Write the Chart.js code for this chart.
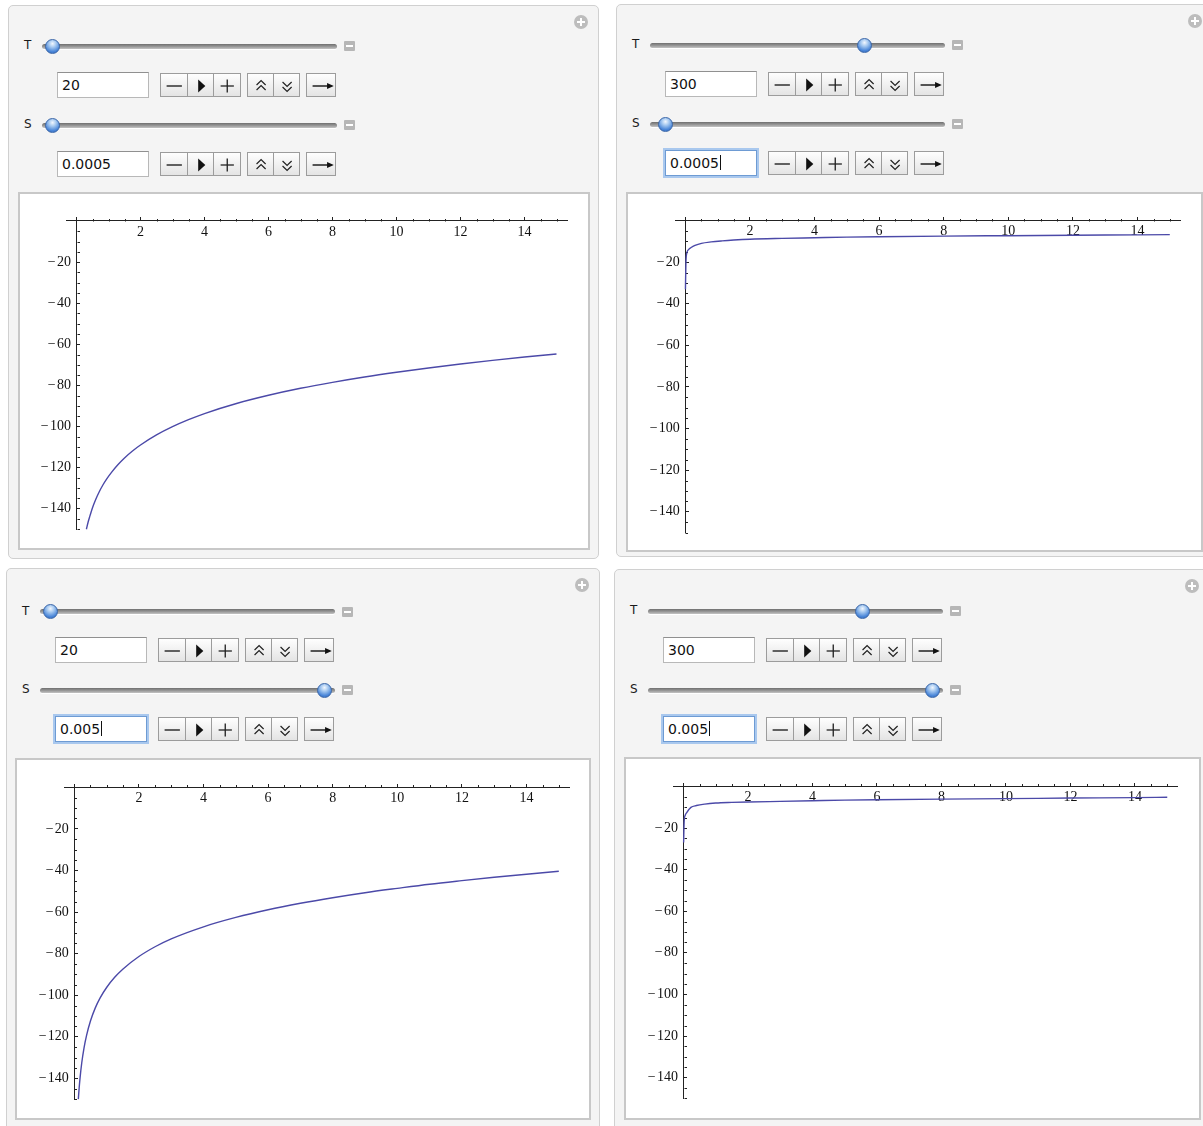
<!DOCTYPE html>
<html>
<head>
<meta charset="utf-8">
<script src="https://cdn.jsdelivr.net/npm/chart.js@4.4.1/dist/chart.umd.min.js"></script>
<style>
  body { margin: 0; width: 1203px; height: 1126px; overflow: hidden; position: relative; background: #fff;
         font-family: "DejaVu Sans", sans-serif; }
  .abs { position: absolute; box-sizing: border-box; }
  .panel { background: #f4f4f4; border: 1px solid #d0d0d0; border-radius: 5px; }
  .frame { background: #fff; border: 2px solid #c8c8c8; }
  .lbl { font-size: 12px; color: #1a1a1a; line-height: 14px; }
  .track { height: 5px; border-radius: 3px; background: linear-gradient(#6f6f6f, #9a9a9a 55%, #c4c4c4);
           box-shadow: 0 1px 0 #fff; }
  .thumb { width: 15px; height: 15px; border-radius: 50%; border: 1px solid #3a66a8;
           background: radial-gradient(circle at 50% 28%, #f2f7fe 0%, #a9cbf1 30%, #4a86d8 70%, #2f64b6 100%); }
  .minus { width: 11px; height: 10px; background: #b6b6b6; border-radius: 1px; }
  .minus::after { content: ""; position: absolute; left: 2px; top: 4px; width: 7px; height: 2px; background: #fff; }
  .input { height: 26px; background: #fff; border: 1px solid #b8b8b8; border-top-color: #909090;
           font-size: 14px; line-height: 24px; padding-left: 4px; color: #111; }
  .input.focus { border: 1px solid #6e9bd3; box-shadow: 0 0 0 2px #a9c8ee; }
  .caret { display: inline-block; width: 1px; height: 15px; background: #111; vertical-align: -2px; margin-left: 1px; }
  .btn { height: 24px; border: 1px solid #9c9c9c; background: linear-gradient(#fefefe, #e4e4e4); }
  .plus { width: 14px; height: 14px; border-radius: 50%; background: #bdbdbd; }
  .plus::before { content: ""; position: absolute; left: 3px; top: 6px; width: 8px; height: 2px; background: #fff; }
  .plus::after { content: ""; position: absolute; left: 6px; top: 3px; width: 2px; height: 8px; background: #fff; }
</style>
</head>
<body>
<script>
// tick labels shared by all four plots
const xTickValues = [2, 4, 6, 8, 10, 12, 14];
const yTickValues = [-140, -120, -100, -80, -60, -40, -20];

// T = 20, S = 0.0005
const curveAx = [0.31, 0.36, 0.42, 0.5, 0.6, 0.7, 0.82, 0.94, 1.1, 1.3, 1.5, 1.75, 2, 2.5, 3, 3.5, 4, 5, 6, 7,
                 8, 9, 10, 11, 12, 13, 14, 15];
const curveAy = [-150, -146.7, -143.5, -139.5, -135.5, -132.1, -128.6, -125.6, -122.2, -118.5, -115.3, -111.9,
                 -109, -104.1, -100.1, -96.7, -93.7, -88.8, -84.8, -81.4, -78.5, -75.9, -73.6, -71.5, -69.6,
                 -67.8, -66.2, -64.7];
// T = 300, S = 0.0005
const curveBx = [0.004, 0.02, 0.05, 0.1, 0.18, 0.3, 0.5, 0.8, 1.14, 1.5, 2, 3, 4, 5, 6, 8, 10, 12, 14, 15];
const curveBy = [-33, -20, -15.5, -14, -13, -12, -11, -10.3, -9.8, -9.4, -9.0, -8.6, -8.3, -8.0, -7.8, -7.5,
                 -7.3, -7.1, -6.9, -6.8];
// T = 20, S = 0.005
const curveCx = [0.125, 0.15, 0.18, 0.23, 0.3, 0.38, 0.5, 0.65, 0.8, 1, 1.25, 1.5, 2, 2.5, 3, 4, 5, 6, 7, 8, 9,
                 10, 11, 12, 13, 14, 15];
const curveCy = [-150, -144.7, -139.5, -132.6, -125.4, -119.3, -112.4, -106.1, -101.3, -96.3, -91.4, -87.5,
                 -81.4, -76.7, -72.9, -67.1, -62.6, -58.9, -55.8, -53.1, -50.7, -48.6, -46.6, -44.9, -43.3,
                 -41.8, -40.4];
// T = 300, S = 0.005
const curveDx = [0.004, 0.02, 0.05, 0.1, 0.23, 0.4, 0.66, 1, 1.5, 2, 3, 4, 5, 6, 8, 10, 12, 14, 15];
const curveDy = [-27, -17, -14, -12.6, -10.1, -9.2, -8.5, -8.0, -7.7, -7.5, -7.2, -6.9, -6.6, -6.4, -6.1, -5.9,
                 -5.6, -5.4, -5.2];

const tValues = ['20', '300', '20', '300'];
const sValues = ['0.0005', '0.0005', '0.005', '0.005'];

const X_MIN = -0.3, X_MAX = 15.33, Y_MIN = -150, Y_MAX = 1.5;

// layout of the four Manipulate panels (page pixels)
const panels = [
  { box: [8, 5, 591, 554], rowT: 46, inT: 72, rowS: 125, inS: 151, tFrac: 0, sFrac: 0, focus: false,
    frame: [18, 192, 572, 358], origin: [76.5, 221], xs: 32, ys: 2.055, xs_: curveAx, ys_: curveAy },
  { box: [616, 4, 597, 553], rowT: 45, inT: 71, rowS: 124, inS: 150, tFrac: 0.745, sFrac: 0.02, focus: true,
    frame: [626, 192, 577, 360], origin: [685.3, 220.5], xs: 32.3, ys: 2.08, xs_: curveBx, ys_: curveBy },
  { box: [6, 568, 594, 570], rowT: 611.5, inT: 637, rowS: 690, inS: 716, tFrac: 0, sFrac: 1, focus: true,
    frame: [15, 758, 576, 362], origin: [74.3, 787.3], xs: 32.3, ys: 2.079, xs_: curveCx, ys_: curveCy },
  { box: [614, 569, 596, 570], rowT: 611, inT: 637, rowS: 690, inS: 716, tFrac: 0.745, sFrac: 1, focus: true,
    frame: [624, 757, 577, 363], origin: [683.5, 786.4], xs: 32.25, ys: 2.08, xs_: curveDx, ys_: curveDy }
];

const icons = {
  minus: '<line x1="5.5" y1="12" x2="20.5" y2="12" stroke="#222" stroke-width="1.4"/>',
  play: '<polygon points="10,5.5 17,12 10,18.5" fill="#111"/>',
  plus: '<line x1="6.5" y1="12" x2="19.5" y2="12" stroke="#222" stroke-width="1.3"/><line x1="13" y1="5.5" x2="13" y2="18.5" stroke="#222" stroke-width="1.3"/>',
  up: '<polyline points="8.5,11 13,6.5 17.5,11" fill="none" stroke="#222" stroke-width="1.2"/><polyline points="8.5,16 13,11.5 17.5,16" fill="none" stroke="#222" stroke-width="1.2"/>',
  down: '<polyline points="8.5,8 13,12.5 17.5,8" fill="none" stroke="#222" stroke-width="1.2"/><polyline points="8.5,13 13,17.5 17.5,13" fill="none" stroke="#222" stroke-width="1.2"/>',
  arrow: '<line x1="5" y1="12" x2="20" y2="12" stroke="#111" stroke-width="1.4"/><polygon points="18,9 24,12 18,15" fill="#111"/>'
};

function el(cls, left, top, width, height, html) {
  const d = document.createElement('div');
  d.className = 'abs ' + cls;
  d.style.left = left + 'px';
  d.style.top = top + 'px';
  if (width != null) d.style.width = width + 'px';
  if (height != null) d.style.height = height + 'px';
  if (html) d.innerHTML = html;
  document.body.appendChild(d);
  return d;
}

function buttons(left, top, widths, names) {
  let x = left;
  widths.forEach((w, i) => {
    el('btn', x, top, w + 1, 24, '<svg width="' + w + '" height="22" viewBox="0 0 26 22" preserveAspectRatio="none" style="display:block">' + icons[names[i]] + '</svg>');
    x += w;
  });
}

function controlRow(L, rowY, inTop, name, frac, text, focus) {
  el('lbl', L + 16, rowY - 8, 10, 14, name);
  el('track', L + 34, rowY - 2.5, 295, 5);
  el('thumb', L + 44 + frac * 274 - 7.5, rowY - 7.5);
  el('minus', L + 336, rowY - 5);
  el('input' + (focus ? ' focus' : ''), L + 49, inTop, 92, 26, text + (focus ? '<span class="caret"></span>' : ''));
  buttons(L + 152, inTop + 1, [26.5, 26.5, 26.5], ['minus', 'play', 'plus']);
  buttons(L + 238.5, inTop + 1, [26.2, 26.2], ['up', 'down']);
  buttons(L + 297.5, inTop + 1, [29], ['arrow']);
}

function fmt(v) {
  return v < 0 ? '\u2212\u200a' + Math.abs(v) : String(v);
}

// Mathematica style minor ticks: every 0.5 on x, every 5 on y, pointing up / right
const minorTicks = {
  id: 'minorTicks',
  beforeDatasetsDraw(chart) {
    const { ctx, scales: { x, y } } = chart;
    const x0 = Math.round(x.getPixelForValue(0)) + 0.5;
    const y0 = Math.round(y.getPixelForValue(0)) + 0.5;
    ctx.save();
    ctx.strokeStyle = '#222';
    ctx.lineWidth = 1;
    ctx.beginPath();
    for (let v = 0.5; v <= 15; v += 0.5) {
      if (v % 2 === 0) continue;
      const px = Math.round(x.getPixelForValue(v)) + 0.5;
      ctx.moveTo(px, y0);
      ctx.lineTo(px, y0 - 2.5);
    }
    for (let v = -5; v >= -150; v -= 5) {
      if (v % 20 === 0) continue;
      const py = Math.round(y.getPixelForValue(v)) + 0.5;
      ctx.moveTo(x0, py);
      ctx.lineTo(x0 + 2.5, py);
    }
    ctx.stroke();
    ctx.restore();
  }
};

const tickFont = { family: '"Liberation Serif", "DejaVu Serif", serif', size: 14, lineHeight: 1 };

panels.forEach((p, i) => {
  const [L, T, W, H] = p.box;
  el('panel', L, T, W, H);
  el('plus', L + W - 25, T + 10);
  controlRow(L, p.rowT, p.inT, 'T', p.tFrac, tValues[i], false);
  controlRow(L, p.rowS, p.inS, 'S', p.sFrac, sValues[i], p.focus);

  const [fl, ft, fw, fh] = p.frame;
  el('frame', fl, ft, fw, fh);
  const cl = fl + 2, ct = ft + 2, cw = fw - 4, ch = fh - 4;
  const canvas = document.createElement('canvas');
  canvas.width = cw;
  canvas.height = ch;
  canvas.style.cssText = 'position:absolute;left:' + cl + 'px;top:' + ct + 'px;width:' + cw + 'px;height:' + ch + 'px';
  document.body.appendChild(canvas);

  const [ox, oy] = p.origin;
  const padding = {
    left: ox + X_MIN * p.xs - cl,
    right: cl + cw - (ox + X_MAX * p.xs),
    top: oy - Y_MAX * p.ys - ct,
    bottom: ct + ch - (oy - Y_MIN * p.ys)
  };

  new Chart(canvas, {
    type: 'line',
    data: {
      datasets: [{
        data: p.xs_.map((x, k) => ({ x: x, y: p.ys_[k] })),
        borderColor: '#4b49a8',
        borderWidth: 1.4,
        pointRadius: 0,
        cubicInterpolationMode: 'monotone',
        fill: false,
        clip: false
      }]
    },
    options: {
      responsive: false,
      animation: false,
      devicePixelRatio: 1,
      layout: { padding: padding },
      plugins: { legend: { display: false }, tooltip: { enabled: false } },
      scales: {
        x: {
          type: 'linear', min: X_MIN, max: X_MAX, bounds: 'data', position: { y: 0 },
          afterBuildTicks: s => { s.ticks = xTickValues.map(v => ({ value: v })); },
          ticks: { autoSkip: false, maxRotation: 0, padding: 8, color: '#111', font: tickFont, callback: v => fmt(v) },
          grid: { drawOnChartArea: false, drawTicks: true, tickLength: -4, color: '#222' },
          border: { display: true, color: '#222', width: 1 }
        },
        y: {
          type: 'linear', min: Y_MIN, max: Y_MAX, bounds: 'data', position: { x: 0 },
          afterBuildTicks: s => { s.ticks = yTickValues.map(v => ({ value: v })); },
          ticks: { autoSkip: false, color: '#111', font: tickFont, callback: v => fmt(v) + '\u2009\u2009' },
          grid: { drawOnChartArea: false, drawTicks: true, tickLength: -4, color: '#222' },
          border: { display: true, color: '#222', width: 1 }
        }
      }
    },
    plugins: [minorTicks]
  });
});
</script>
</body>
</html>
